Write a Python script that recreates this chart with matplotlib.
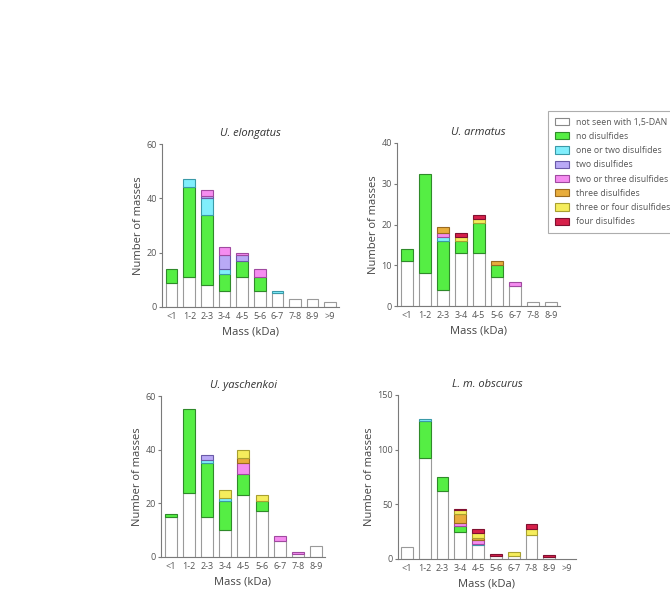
import matplotlib
matplotlib.use("Agg")
import matplotlib.pyplot as plt
from matplotlib.patches import Patch
import numpy as np

plt.rcParams['font.family'] = ['Open Sans', 'DejaVu Sans']

series_names = ["not seen with 1,5-DAN", "no disulfides", "one or two disulfides",
                "two disulfides", "two or three disulfides", "three disulfides",
                "three or four disulfides", "four disulfides"]
face_colors = ["#ffffff", "#55ee44", "#80eefc", "#b9a9f6", "#f58cf0", "#e8ad3c", "#f5ed5c", "#d6204a"]
edge_colors = ["#9a9a9a", "#2f8a2a", "#3a9aa8", "#6a5aa8", "#a04aa0", "#9a6a20", "#a8a030", "#801030"]

# U. elongatus
elong_cats = ["<1", "1-2", "2-3", "3-4", "4-5", "5-6", "6-7", "7-8", "8-9", ">9"]
elong_white = [9, 11, 8, 6, 11, 6, 5, 3, 3, 2]
elong_nodis = [5, 33, 26, 6, 6, 5, 0, 0, 0, 0]
elong_oneortwo = [0, 3, 6, 2, 0, 0, 1, 0, 0, 0]
elong_two = [0, 0, 1, 5, 2, 0, 0, 0, 0, 0]
elong_twoorthree = [0, 0, 2, 3, 1, 3, 0, 0, 0, 0]
elong_three = [0] * 10
elong_threeorfour = [0] * 10
elong_four = [0] * 10

# U. armatus
arm_cats = ["<1", "1-2", "2-3", "3-4", "4-5", "5-6", "6-7", "7-8", "8-9"]
arm_white = [11, 8, 4, 13, 13, 7, 5, 1, 1]
arm_nodis = [3, 24.4, 12, 3, 7.3, 3, 0, 0, 0]
arm_oneortwo = [0, 0, 1, 0, 0, 0, 0, 0, 0]
arm_two = [0] * 9
arm_twoorthree = [0, 0, 1, 0, 0, 0, 1, 0, 0]
arm_three = [0, 0, 1.3, 0, 0, 1, 0, 0, 0]
arm_threeorfour = [0, 0, 0, 1, 1, 0, 0, 0, 0]
arm_four = [0, 0, 0, 1, 1, 0, 0, 0, 0]

# U. yaschenkoi
yas_cats = ["<1", "1-2", "2-3", "3-4", "4-5", "5-6", "6-7", "7-8", "8-9"]
yas_white = [15, 24, 15, 10, 23, 17, 6, 1, 4]
yas_nodis = [1, 31, 20, 11, 8, 4, 0, 0, 0]
yas_oneortwo = [0, 0, 1, 1, 0, 0, 0, 0, 0]
yas_two = [0, 0, 2, 0, 0, 0, 0, 0, 0]
yas_twoorthree = [0, 0, 0, 0, 4, 0, 2, 1, 0]
yas_three = [0, 0, 0, 0, 2, 0, 0, 0, 0]
yas_threeorfour = [0, 0, 0, 3, 3, 2, 0, 0, 0]
yas_four = [0] * 9

# L. m. obscurus
obs_cats = ["<1", "1-2", "2-3", "3-4", "4-5", "5-6", "6-7", "7-8", "8-9", ">9"]
obs_white = [11, 92, 62, 25, 13, 3, 3, 22, 2, 0]
obs_nodis = [0, 34, 13, 5, 0, 0, 0, 0, 0, 0]
obs_oneortwo = [0, 2, 0, 0, 1, 0, 0, 0, 0, 0]
obs_two = [0] * 10
obs_twoorthree = [0, 0, 0, 3, 3, 0, 0, 0, 0, 0]
obs_three = [0, 0, 0, 8, 2, 0, 0, 0, 0, 0]
obs_threeorfour = [0, 0, 0, 4, 5, 0, 3, 5, 0, 0]
obs_four = [0, 0, 0, 1, 3, 2, 0, 5, 2, 0]

panels = [
    ("U. elongatus", elong_cats,
     [elong_white, elong_nodis, elong_oneortwo, elong_two, elong_twoorthree, elong_three, elong_threeorfour, elong_four],
     60, [0, 20, 40, 60], (162, 339, 307, 144), (-0.55, 9.5)),
    ("U. armatus", arm_cats,
     [arm_white, arm_nodis, arm_oneortwo, arm_two, arm_twoorthree, arm_three, arm_threeorfour, arm_four],
     40, [0, 10, 20, 30, 40], (397, 560, 306, 143), (-0.54, 8.5)),
    ("U. yaschenkoi", yas_cats,
     [yas_white, yas_nodis, yas_oneortwo, yas_two, yas_twoorthree, yas_three, yas_threeorfour, yas_four],
     60, [0, 20, 40, 60], (161, 325, 557, 396), (-0.55, 8.5)),
    ("L. m. obscurus", obs_cats,
     [obs_white, obs_nodis, obs_oneortwo, obs_two, obs_twoorthree, obs_three, obs_threeorfour, obs_four],
     150, [0, 50, 100, 150], (398, 576, 559, 395), (-0.5, 9.5)),
]

W, H = 670, 591
fig = plt.figure(figsize=(W / 100, H / 100), dpi=100)
text_col = "#555555"
spine_col = "#7a7a7a"

for title, cats, stacks, ymax, yticks, (x0, x1, yb, yt), xl in panels:
    ax = fig.add_axes([x0 / W, 1 - yb / H, (x1 - x0) / W, (yb - yt) / H])
    x = np.arange(len(cats))
    bottom = np.zeros(len(cats))
    for vals, fc, ec in zip(stacks, face_colors, edge_colors):
        v = np.array(vals, dtype=float)
        mask = v > 0
        ax.bar(x[mask], v[mask], 0.66, bottom=bottom[mask], color=fc,
               edgecolor=ec, linewidth=0.8, zorder=2)
        bottom += v
    ax.set_xlim(*xl)
    ax.set_ylim(0, ymax)
    ax.set_yticks(yticks)
    ax.set_xticks(x)
    ax.set_xticklabels(cats)
    for s in ["top", "right"]:
        ax.spines[s].set_visible(False)
    for s in ["left", "bottom"]:
        ax.spines[s].set_color(spine_col)
        ax.spines[s].set_linewidth(0.8)
    ax.tick_params(axis="y", length=2.5, width=0.8, color=spine_col, labelsize=6.5,
                   labelcolor=text_col, pad=1)
    ax.tick_params(axis="x", length=0, labelsize=6.5, labelcolor=text_col, pad=3.5)
    ax.set_title(title, fontstyle="italic", fontsize=8, color="#333333", pad=6)
    ax.set_xlabel("Mass (kDa)", fontsize=8, color="#444444", labelpad=4)
    ax.set_ylabel("Number of masses", fontsize=8, color="#444444", labelpad=2)

handles = [Patch(facecolor=fc, edgecolor=ec if i else "#888888", linewidth=0.8)
           for i, (fc, ec) in enumerate(zip(face_colors, edge_colors))]
leg = fig.legend(handles, series_names, loc="upper left",
                 bbox_to_anchor=(548 / W, 1 - 111 / H), fontsize=6.3,
                 frameon=True, fancybox=False, edgecolor="#999999",
                 handlelength=1.7, handleheight=0.9, labelspacing=0.6,
                 handletextpad=0.7, borderpad=0.75, borderaxespad=0)
for t in leg.get_texts():
    t.set_color(text_col)
leg.get_frame().set_linewidth(0.8)

fig.savefig("out.png", dpi=100)
